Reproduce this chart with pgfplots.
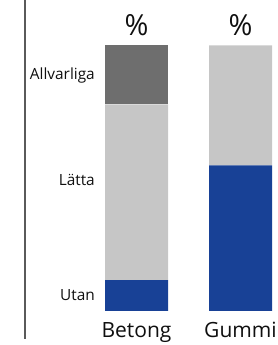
\documentclass[border=0pt]{standalone}
\usepackage{pgfplots}
\pgfplotsset{compat=1.18}
\usepackage{fontspec}
\setmainfont{Open Sans}
\definecolor{cDark}{RGB}{110,110,110}
\definecolor{cLight}{RGB}{198,198,198}
\definecolor{cBlue}{RGB}{24,65,150}
\definecolor{cText}{RGB}{15,15,15}
\begin{document}
\begin{tikzpicture}[x=1pt,y=1pt]
\path[use as bounding box] (0,0) rectangle (278,345);
\draw[color={rgb,255:red,90;green,90;blue,90}, line width=2pt] (25,6) -- (25,345);
\begin{axis}[
  at={(105pt,34pt)}, anchor=south west,
  x=104pt, y=2.657pt,
  xmin=-0.303, xmax=1.5, ymin=0, ymax=100,
  enlargelimits=false,
  ybar stacked, bar width=63pt,
  axis line style={draw=none},
  tick style={draw=none},
  xtick={0,1}, xticklabels={Betong,Gummi},
  ytick={87.2,47.4,4.1}, yticklabels={Allvarliga,Lätta,Utan},
  xticklabel style={anchor=base, inner sep=0pt, yshift=-27pt, font=\fontsize{21}{21}\selectfont, text=cText},
  yticklabel style={anchor=base east, inner sep=0pt, xshift=-10pt, font=\fontsize{15.4}{15.4}\selectfont, text=cText},
  clip=false,
]
\addplot[fill=cBlue, draw=none] coordinates {(0,11.6) (1,54.8)};
\addplot[fill=cLight, draw=none] coordinates {(0,66.2) (1,45.2)};
\addplot[fill=cDark, draw=none] coordinates {(0,22.2) (1,0)};
\node[anchor=base, inner sep=0pt, font=\fontsize{29}{29}\selectfont, text=cText] at (axis cs:0,100) [yshift=10pt] {\%};
\node[anchor=base, inner sep=0pt, font=\fontsize{29}{29}\selectfont, text=cText] at (axis cs:1,100) [yshift=10pt] {\%};
\end{axis}
\end{tikzpicture}
\end{document}
